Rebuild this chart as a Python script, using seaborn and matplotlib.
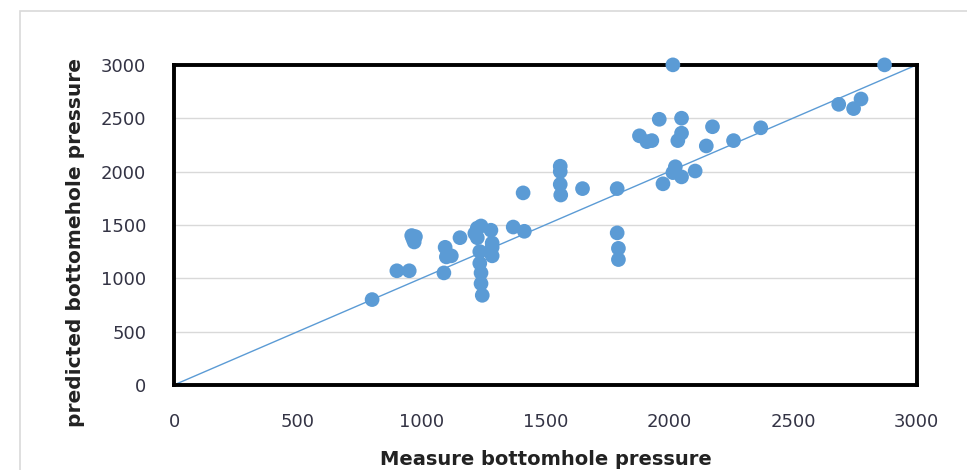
import matplotlib
matplotlib.use("Agg")
import matplotlib.pyplot as plt
import pandas as pd
import seaborn as sns
from matplotlib.patches import Rectangle

# measured vs predicted bottomhole pressure
measured = [
    800, 900, 950, 960, 965, 970, 975, 1090, 1095, 1100, 1120, 1155,
    1225, 1215, 1225, 1235, 1235, 1240, 1240, 1245, 1240, 1280, 1285, 1285,
    1285, 1370, 1415, 1410, 1560, 1560, 1560, 1562, 1650, 1790, 1790, 1795,
    1795, 1880, 1910, 1930, 1960, 1975, 2015, 2025, 2050, 2015, 2035, 2050,
    2050, 2105, 2150, 2175, 2260, 2370, 2685, 2745, 2775, 2870,
]
predicted = [
    800, 1070, 1070, 1400, 1370, 1340, 1390, 1050, 1290, 1200, 1210, 1380,
    1470, 1420, 1380, 1250, 1140, 1050, 950, 840, 1490, 1450, 1330, 1290,
    1210, 1480, 1440, 1800, 2050, 2000, 1880, 1780, 1840, 1840, 1425, 1280,
    1175, 2335, 2280, 2290, 2490, 1885, 1990, 2045, 1950, 3000, 2290, 2360,
    2500, 2005, 2240, 2420, 2290, 2410, 2630, 2590, 2680, 3000,
]
ref_line = [0, 3000]
ticks = [0, 500, 1000, 1500, 2000, 2500, 3000]

blue = "#5B9BD5"

sns.set_theme(style="white")
plt.rcParams["font.family"] = ["DejaVu Sans"]

df = pd.DataFrame({"measured": measured, "predicted": predicted})
line_df = pd.DataFrame({"x": ref_line, "y": ref_line})

fig = plt.figure(figsize=(9.67, 4.70), dpi=100)
ax = fig.add_axes([0.180, 0.181, 0.768, 0.681])

# outer chart frame
fig.patches.append(Rectangle((0.021, -0.1), 1.1, 1.077, transform=fig.transFigure,
                             fill=False, edgecolor="#d9d9d9", linewidth=1.2))

sns.lineplot(data=line_df, x="x", y="y", color=blue, linewidth=1.0, ax=ax, zorder=2)
sns.scatterplot(data=df, x="measured", y="predicted", color=blue, s=112,
                edgecolor="none", ax=ax, zorder=3, clip_on=False)

ax.set_xlim(0, 3000)
ax.set_ylim(0, 3000)
ax.set_xticks(ticks)
ax.set_yticks(ticks)
ax.yaxis.grid(True, color="#d9d9d9", linewidth=1.0)
ax.xaxis.grid(False)
ax.set_axisbelow(True)
for side in ["top", "right", "left", "bottom"]:
    ax.spines[side].set_visible(True)
    ax.spines[side].set_color("black")
    ax.spines[side].set_linewidth(2.8)

ax.tick_params(axis="x", length=0, pad=20, labelsize=13, labelcolor="#333344")
ax.tick_params(axis="y", length=0, pad=20, labelsize=13, labelcolor="#333344")

ax.set_xlabel("Measure bottomhole pressure", fontsize=14, fontweight="bold", color="#222222", labelpad=14)
ax.set_ylabel("predicted bottomehole pressure", fontsize=14.5, fontweight="bold", color="#222222")
ax.yaxis.set_label_coords(-0.12, 0.445)

fig.savefig("out.png", dpi=100)
plt.close(fig)
